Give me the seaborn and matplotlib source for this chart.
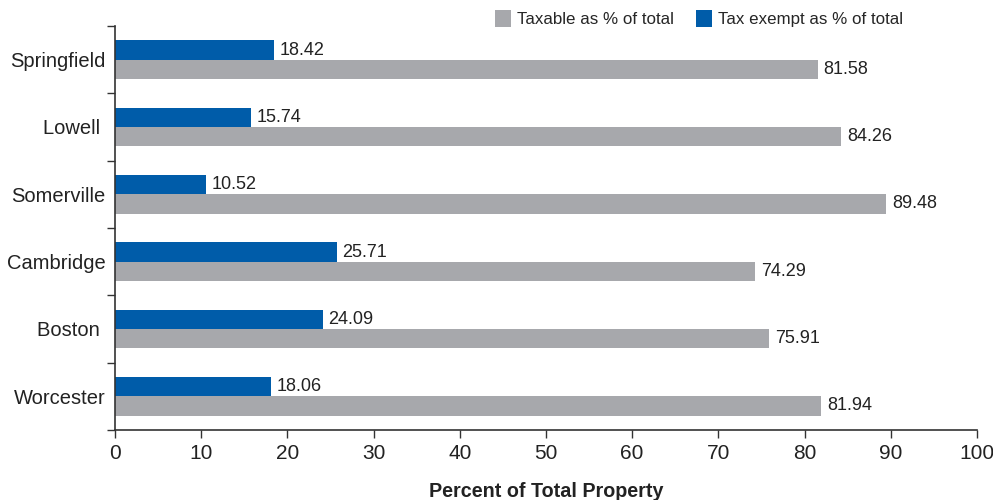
import matplotlib
matplotlib.use("Agg")
import matplotlib.pyplot as plt
import seaborn as sns
import pandas as pd
from matplotlib.patches import Patch

cities = ["Springfield", "Lowell ", "Somerville", "Cambridge", "Boston ", "Worcester"]
tax_exempt = [18.42, 15.74, 10.52, 25.71, 24.09, 18.06]
taxable = [81.58, 84.26, 89.48, 74.29, 75.91, 81.94]
series_names = ["Taxable as % of total", "Tax exempt as % of total"]
x_ticks = [0, 10, 20, 30, 40, 50, 60, 70, 80, 90, 100]

BLUE = "#005CA9"
GREY = "#A7A8AC"
AXC = "#333333"

sns.set_theme(style="white")
plt.rcParams["font.family"] = ["Liberation Sans", "DejaVu Sans"]

df = pd.DataFrame({
    "city": cities * 2,
    "value": tax_exempt + taxable,
    "series": [series_names[1]] * len(cities) + [series_names[0]] * len(cities),
})

fig = plt.figure(figsize=(9.93, 5.0), dpi=100)
ax = fig.add_axes([0.1158, 0.14, 0.868, 0.808])

sns.barplot(data=df, x="value", y="city", hue="series",
            hue_order=[series_names[1], series_names[0]],
            palette=[BLUE, GREY], order=cities, orient="h",
            width=0.57, saturation=1, legend=False, linewidth=0,
            edgecolor="none", ax=ax)

for cont in ax.containers:
    ax.bar_label(cont, fmt="%.2f", padding=4, fontsize=13, color="#222222")

ax.set_xlim(0, 100)
ax.set_ylim(len(cities) - 0.5, -0.5)
ax.set_xticks(x_ticks)
ax.set_xticklabels([str(t) for t in x_ticks], fontsize=15, color="#222222")
ax.set_yticks(range(len(cities)))
ax.set_yticklabels(cities, fontsize=14.5, color="#222222")
ax.set_yticks([i - 0.5 for i in range(len(cities) + 1)], minor=True)
ax.tick_params(axis="y", which="major", length=0, pad=7)
ax.tick_params(axis="y", which="minor", length=6, width=1, color=AXC, left=True)
ax.tick_params(axis="x", which="major", length=6, width=1, color=AXC, bottom=True, pad=4)
ax.set_ylabel("")
ax.set_xlabel("Percent of Total Property", fontsize=14.2, fontweight="bold",
              color="#222222", labelpad=14)

for s in ["top", "right"]:
    ax.spines[s].set_visible(False)
for s in ["left", "bottom"]:
    ax.spines[s].set_color(AXC)
    ax.spines[s].set_linewidth(1.2)

handles = [Patch(facecolor=GREY, edgecolor="none"), Patch(facecolor=BLUE, edgecolor="none")]
fig.legend(handles, series_names, loc="upper right", bbox_to_anchor=(0.925, 1.01),
           ncol=2, frameon=False, fontsize=12.2, handlelength=0.95, handleheight=1.1,
           handletextpad=0.35, columnspacing=1.3)

fig.savefig("out.png", dpi=100)
